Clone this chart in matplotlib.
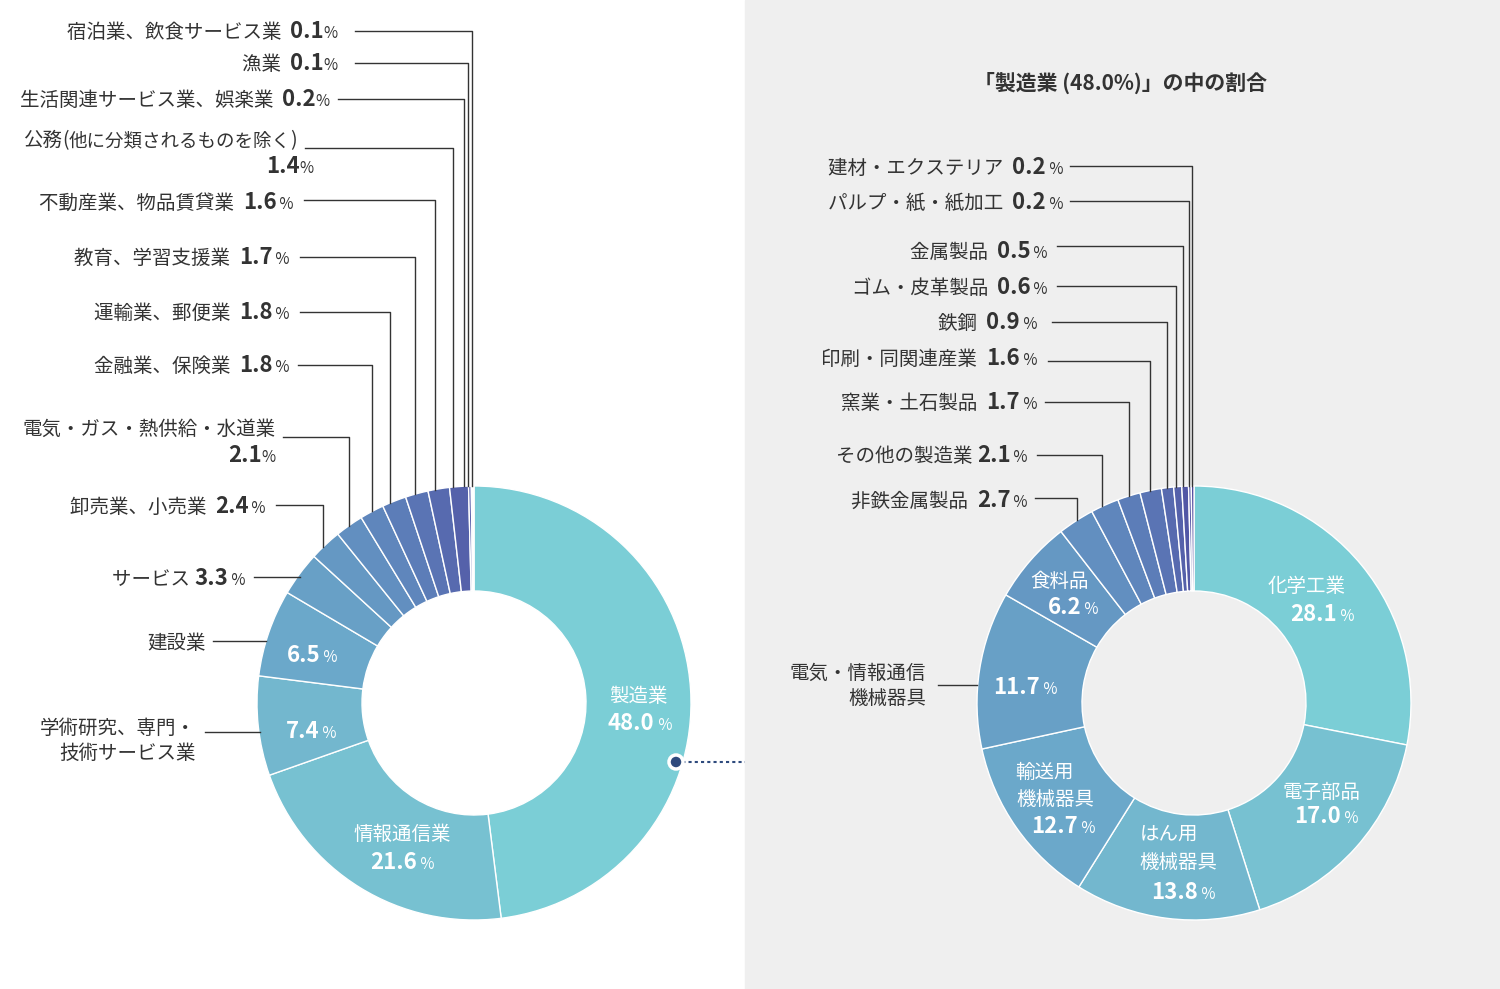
import matplotlib
matplotlib.use("Agg")
import matplotlib.pyplot as plt
from matplotlib.patches import Rectangle, Circle
import numpy as np

FONT = "Noto Sans CJK JP"
plt.rcParams["font.family"] = FONT

W, H = 1500, 989
left_names = ["製造業", "情報通信業", "学術研究、専門・技術サービス業", "建設業", "サービス", "卸売業、小売業",
              "電気・ガス・熱供給・水道業", "金融業、保険業", "運輸業、郵便業", "教育、学習支援業",
              "不動産業、物品賃貸業", "公務（他に分類されるものを除く）", "生活関連サービス業、娯楽業", "漁業", "宿泊業、飲食サービス業"]
left_vals = [48.0, 21.6, 7.4, 6.5, 3.3, 2.4, 2.1, 1.8, 1.8, 1.7, 1.6, 1.4, 0.2, 0.1, 0.1]
right_names = ["化学工業", "電子部品", "はん用機械器具", "輸送用機械器具", "電気・情報通信機械器具", "食料品",
               "非鉄金属製品", "その他の製造業", "窯業・土石製品", "印刷・同関連産業", "鉄鋼", "ゴム・皮革製品",
               "金属製品", "パルプ・紙・紙加工", "建材・エクステリア"]
right_vals = [28.1, 17.0, 13.8, 12.7, 11.7, 6.2, 2.7, 2.1, 1.7, 1.6, 0.9, 0.6, 0.5, 0.2, 0.2]

colors = ['#7BCED6', '#77C1D1', '#73B7CE', '#6BA8CA', '#68A0C6', '#6598C3', '#628FC0', '#5F86BC',
          '#5C7DB8', '#5A74B4', '#576AAF', '#5561AA', '#5257A5', '#4F4EA0', '#4C459B']

fig = plt.figure(figsize=(15, 9.89), dpi=100)
ax = fig.add_axes([0, 0, 1, 1])
def Y(y): return H - y

ax.add_patch(Rectangle((745, 0), 755, H, color="#EFEFEF", zorder=0))

R, r = 217, 112
for vals, cx in ((left_vals, 474), (right_vals, 1194)):
    ax.pie(vals, colors=colors, startangle=90, counterclock=False, center=(cx, Y(703)), radius=R,
           wedgeprops=dict(width=R - r, edgecolor="white", linewidth=1.0), frame=False)
ax.set_xlim(0, W); ax.set_ylim(0, H); ax.set_aspect("auto"); ax.axis("off")
renderer = fig.canvas.get_renderer()

def rtext(x, y, parts, color="#333333"):
    for s, size, wt in reversed(parts):
        t = ax.text(x, Y(y), s, ha="right", va="baseline", fontsize=size, fontweight=wt, color=color, zorder=5)
        x -= t.get_window_extent(renderer).width

def lab(x, y, name, num, pct=" %"):
    rtext(x, y, [(name + "  ", 14, "normal"), (num, 16, "bold"), (pct, 11, "normal")])

LC = "#333333"
def leader(pts):
    xs = [p[0] for p in pts]; ys = [Y(p[1]) for p in pts]
    ax.plot(xs, ys, color=LC, lw=1.0, zorder=4)

def edge_y(cx, x):
    return 703 - np.sqrt(R**2 - (x - cx)**2)

L = [
    (14, 338, 38, 355, 31, 472, "%"), (13, 338, 70, 355, 63, 468, "%"), (12, 330, 106, 338, 99, 464, "%"),
    (10, 294, 209, 304, 200, 435, " %"), (9, 290, 264, 300, 257, 415, " %"), (8, 290, 319, 300, 312, 390, " %"),
    (7, 290, 372, 298, 365, 372, " %"), (5, 266, 513, 276, 505, 323, " %")]
for i, x, y, lx, ly, vx, pc in L:
    lab(x, y, left_names[i], f"{left_vals[i]}", pc)
    leader([(lx, ly), (vx, ly), (vx, edge_y(474, vx))])
rtext(297, 146, [("公務", 14, "normal"), ("(", 14, "normal"), ("他に分類されるものを除く", 13.3, "normal"), (")", 14, "normal")])
rtext(314, 173, [("1.4", 16, "bold"), ("%", 11, "normal")])
leader([(305, 148), (453, 148), (453, edge_y(474, 453))])
rtext(276, 435, [("電気・ガス・熱供給・水道業", 14, "normal")])
rtext(276, 462, [("2.1", 16, "bold"), ("%", 11, "normal")])
leader([(283, 437), (349, 437), (349, edge_y(474, 349))])
rtext(246, 585, [("サービス ", 14, "normal"), ("3.3", 16, "bold"), (" %", 11, "normal")])
leader([(254, 577), (300, 577)])
rtext(206, 649, [("建設業", 14, "normal")])
leader([(213, 641), (266, 641)])
rtext(196, 734, [("学術研究、専門・", 14, "normal")])
rtext(196, 759, [("技術サービス業", 14, "normal")])
leader([(205, 732), (260, 732)])

def wtext(x, y, parts):
    ws, ts = [], []
    for s, size, wt in parts:
        t = ax.text(0, Y(y), s, ha="left", va="baseline", fontsize=size, fontweight=wt, color="white", zorder=5)
        ws.append(t.get_window_extent(renderer).width); ts.append(t)
    x0 = x - sum(ws) / 2
    for t, w in zip(ts, ws):
        t.set_x(x0); x0 += w

def inner(x, y, num):
    wtext(x, y, [(num, 16, "bold"), (" %", 11, "normal")])

wtext(638, 702, [("製造業", 14, "normal")]); inner(640, 730, "48.0")
wtext(402, 840, [("情報通信業", 14, "normal")]); inner(402, 869, "21.6")
inner(311, 738, "7.4"); inner(312, 662, "6.5")

ax.plot([676, 745], [Y(762), Y(762)], color="#2E4A7D", lw=1.5, ls=(0, (1.5, 1.5)), zorder=4)
ax.add_patch(Circle((676, Y(762)), 7, facecolor="#2E4A7D", edgecolor="white", lw=2.5, zorder=6))

ax.text(1120, Y(83), "「製造業 (48.0%)」の中の割合", ha="center", va="center", fontsize=15,
        fontweight="bold", color="#333333")

Rl = [(14, 1063, 174, 1070, 166, 1192), (13, 1063, 209, 1070, 201, 1189), (12, 1048, 258, 1057, 246, 1183),
      (11, 1048, 294, 1057, 286, 1176), (10, 1037, 329, 1052, 322, 1167), (9, 1037, 365, 1048, 361, 1150),
      (8, 1037, 409, 1045, 402, 1129), (7, 1028, 462, 1037, 455, 1102), (6, 1028, 507, 1035, 498, 1077)]
for i, x, y, lx, ly, vx in Rl:
    name = right_names[i] + (" " if i == 7 else "  ")
    rtext(x, y, [(name, 14, "normal"), (f"{right_vals[i]}", 16, "bold"), (" %", 11, "normal")])
    leader([(lx, ly), (vx, ly), (vx, edge_y(1194, vx))])
rtext(926, 679, [("電気・情報通信", 14, "normal")])
rtext(926, 704, [("機械器具", 14, "normal")])
leader([(938, 685), (977, 685)])

wtext(1307, 592, [("化学工業", 14, "normal")]); inner(1322, 621, "28.1")
wtext(1322, 798, [("電子部品", 14, "normal")]); inner(1326, 823, "17.0")
wtext(1169, 840, [("はん用", 14, "normal")]); wtext(1178, 868, [("機械器具", 14, "normal")]); inner(1183, 899, "13.8")
wtext(1045, 778, [("輸送用", 14, "normal")]); wtext(1055, 805, [("機械器具", 14, "normal")]); inner(1063, 833, "12.7")
inner(1025, 694, "11.7")
wtext(1060, 587, [("食料品", 14, "normal")]); inner(1073, 614, "6.2")

fig.savefig("out.png", dpi=100)
